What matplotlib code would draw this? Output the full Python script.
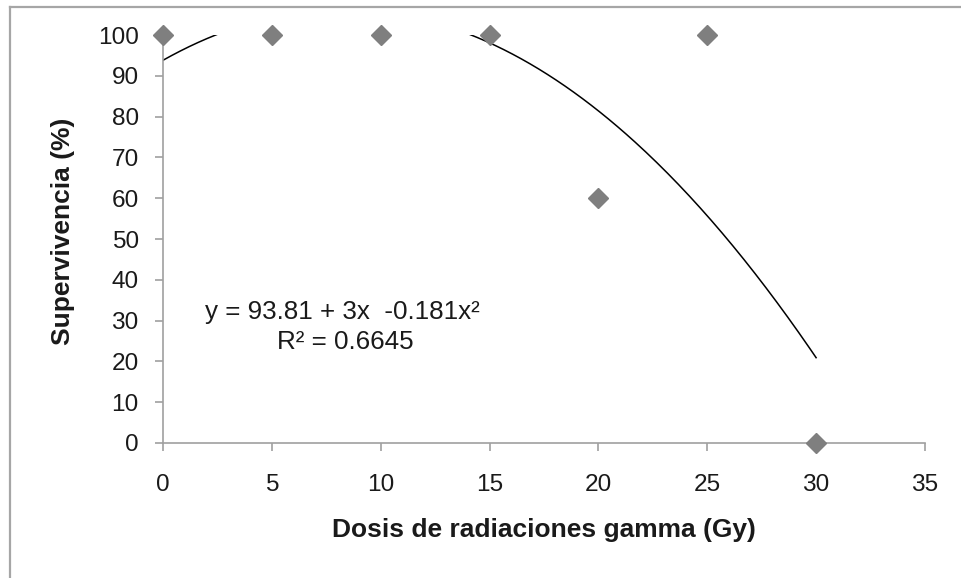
import numpy as np
import matplotlib
matplotlib.use("Agg")
import matplotlib.pyplot as plt
from matplotlib.lines import Line2D

plt.rcParams['font.family'] = ['Liberation Sans', 'DejaVu Sans']

# Survival data per gamma dose
dose = [0, 5, 10, 15, 20, 25, 30]
survival = [100, 100, 100, 100, 60, 100, 0]

# Quadratic trend coefficients: y = c0 + c1*x + c2*x^2
c0, c1, c2 = 93.81, 3.0, -0.181
r2 = 0.6645

xticks = [0, 5, 10, 15, 20, 25, 30, 35]
yticks = [0, 10, 20, 30, 40, 50, 60, 70, 80, 90, 100]

axis_gray = '#a0a0a0'
marker_gray = '#7f7f7f'
text_col = '#1a1a1a'

fig = plt.figure(figsize=(9.61, 5.78), dpi=100)
ax = fig.add_axes([0.1696, 0.2336, 0.7929, 0.7058])

# Trend line
xs = np.linspace(min(dose), max(dose), 300)
ys = c0 + c1 * xs + c2 * xs ** 2
ax.plot(xs, ys, color='black', lw=1.1, zorder=2)

# Data points
ax.plot(dose, survival, linestyle='none', marker='D', markersize=10,
        color=marker_gray, markeredgecolor=marker_gray, clip_on=False, zorder=3)

ax.set_xlim(0, 35)
ax.set_ylim(0, 100)
ax.set_xticks(xticks)
ax.set_yticks(yticks)

for side in ['top', 'right']:
    ax.spines[side].set_visible(False)
for side in ['left', 'bottom']:
    ax.spines[side].set_color(axis_gray)
    ax.spines[side].set_linewidth(1.2)

ax.tick_params(axis='both', colors=axis_gray, width=1.2, length=5.5,
               labelsize=17.6, labelcolor=text_col, direction='out')
ax.tick_params(axis='x', pad=17)
ax.tick_params(axis='y', pad=12)

ax.set_xlabel('Dosis de radiaciones gamma (Gy)', fontsize=19, fontweight='bold',
              color=text_col, labelpad=16)
ax.set_ylabel('Supervivencia (%)', fontsize=19, fontweight='bold',
              color=text_col)
ax.yaxis.set_label_coords(-0.116, 0.52)

eq = f'y = {c0:.2f} + {c1:g}x  {c2:.3f}x²'
ax.text(1.93, 32.1, eq, fontsize=18.7, color=text_col, ha='left', va='center')
ax.text(5.24, 24.7, f'R² = {r2:.4f}', fontsize=18.7, color=text_col,
        ha='left', va='center')

# Outer frame lines along the top and left edges
frame_col = '#a6a6a6'
fig.add_artist(Line2D([9.5 / 961, 1.0], [1 - 6.5 / 578, 1 - 6.5 / 578],
                      transform=fig.transFigure, color=frame_col, lw=1.6))
fig.add_artist(Line2D([9.5 / 961, 9.5 / 961], [0.0, 1 - 6.5 / 578],
                      transform=fig.transFigure, color=frame_col, lw=1.6))

fig.savefig('out.png', dpi=100, facecolor='white')
